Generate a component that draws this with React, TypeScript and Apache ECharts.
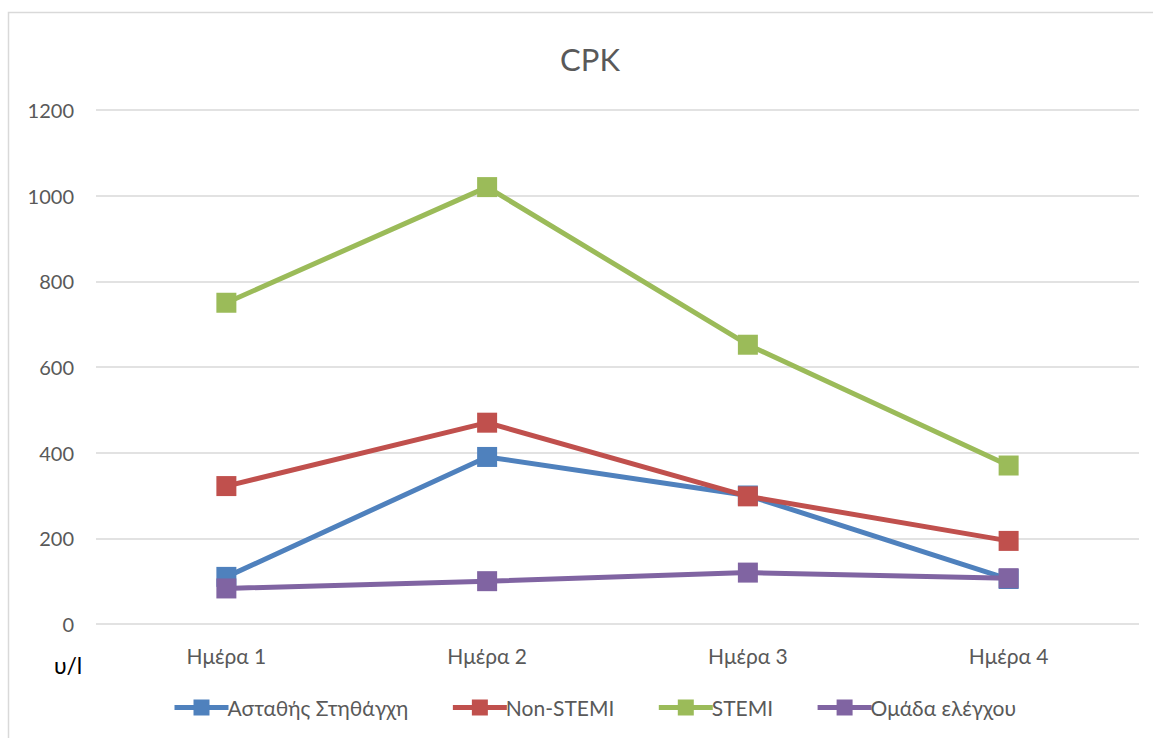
import React, { useEffect, useRef } from "react";
import * as echarts from "echarts";

const categories = ["Ημέρα 1", "Ημέρα 2", "Ημέρα 3", "Ημέρα 4"];
const seriesNames = ["Ασταθής Στηθάγχη", "Non-STEMI", "STEMI", "Ομάδα ελέγχου"];
const unstableAngina = [110, 390, 300, 105];
const nonStemi = [322, 470, 298, 194];
const stemi = [750, 1020, 652, 370];
const controlGroup = [83, 100, 120, 107];
const seriesColors = ["#4F81BD", "#C0504D", "#9BBB59", "#8064A2"];
const yTicks = { min: 0, max: 1200, interval: 200 };

const FONT = "Lato, 'Open Sans', sans-serif";

export default function App() {
  const ref = useRef<HTMLDivElement>(null);
  useEffect(() => {
    document.body.style.margin = "0";
    const chart = echarts.init(ref.current!, null, { renderer: "svg" });
    const data = [unstableAngina, nonStemi, stemi, controlGroup];
    chart.setOption({
      animation: false,
      backgroundColor: "#ffffff",
      title: {
        text: "CPK",
        left: 585,
        textAlign: "center",
        top: 38,
        textStyle: { fontFamily: FONT, fontSize: 31, fontWeight: "normal", color: "#595959" },
      },
      grid: { left: 96, right: 14, top: 110, bottom: 114 },
      xAxis: {
        type: "category",
        data: categories,
        boundaryGap: true,
        axisLine: { show: false },
        axisTick: { show: false },
        axisLabel: { fontFamily: FONT, fontSize: 21, color: "#595959", margin: 21 },
      },
      yAxis: {
        type: "value",
        min: yTicks.min,
        max: yTicks.max,
        interval: yTicks.interval,
        axisLine: { show: false },
        axisTick: { show: false },
        splitLine: { lineStyle: { color: "#D9D9D9", width: 1.5 } },
        axisLabel: {
          fontFamily: FONT,
          fontSize: 20,
          color: "#595959",
          margin: 22,
          formatter: (v: number) => String(v),
        },
      },
      legend: {
        bottom: 15,
        left: 167,
        itemWidth: 54,
        itemHeight: 20,
        itemGap: 42,
        lineStyle: { width: 5 },
        textStyle: { fontFamily: FONT, fontSize: 21, color: "#595959", padding: [0, 0, 0, -6] },
        data: seriesNames,
      },
      graphic: [
        {
          type: "rect",
          shape: { x: 8.5, y: 12.5, width: 1200, height: 800 },
          style: { fill: "none", stroke: "#D9D9D9", lineWidth: 1.5 },
          silent: true,
        },
        {
          type: "text",
          left: 54,
          top: 653,
          style: { text: "υ/l", font: `23px ${FONT}`, fill: "#000000" },
        },
      ],
      series: seriesNames.map((name, i) => ({
        name,
        type: "line",
        data: data[i],
        symbol: "rect",
        symbolSize: 20,
        color: seriesColors[i],
        lineStyle: { width: 5, color: seriesColors[i] },
        itemStyle: { color: seriesColors[i] },
        z: 2 + i,
      })),
    });
    return () => chart.dispose();
  }, []);
  return <div ref={ref} style={{ width: 1153, height: 738 }} />;
}
